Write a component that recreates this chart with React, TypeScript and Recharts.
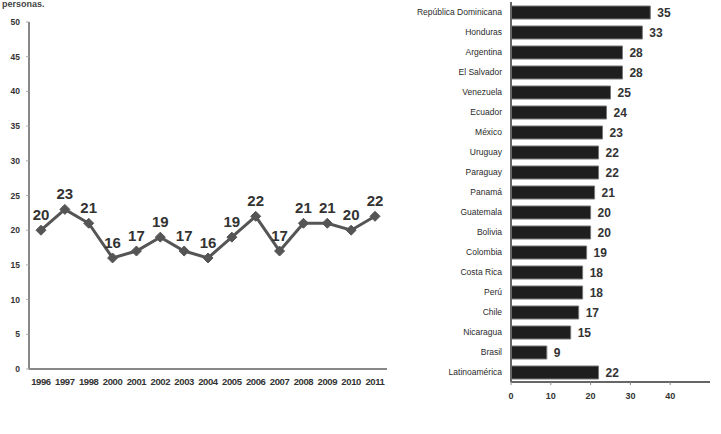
import React from "react";
import {
  ComposedChart,
  Line,
  LabelList,
  XAxis,
  YAxis,
  BarChart,
  Bar,
} from "recharts";

const years = ["1996", "1997", "1998", "2000", "2001", "2002", "2003", "2004", "2005", "2006", "2007", "2008", "2009", "2010", "2011"];
const yearValues = [20, 23, 21, 16, 17, 19, 17, 16, 19, 22, 17, 21, 21, 20, 22];
const yTicks = [0, 5, 10, 15, 20, 25, 30, 35, 40, 45, 50];

const countries = [
  "República Dominicana", "Honduras", "Argentina", "El Salvador", "Venezuela", "Ecuador", "México",
  "Uruguay", "Paraguay", "Panamá", "Guatemala", "Bolivia", "Colombia", "Costa Rica", "Perú",
  "Chile", "Nicaragua", "Brasil", "Latinoamérica",
];
const countryValues = [35, 33, 28, 28, 25, 24, 23, 22, 22, 21, 20, 20, 19, 18, 18, 17, 15, 9, 22];
const xTicks = [0, 10, 20, 30, 40];

const font = "'Liberation Sans', Arial, sans-serif";

const lineData = years.map((year, i) => ({ year, value: yearValues[i] }));
const barData = countries.map((country, i) => ({ country, value: countryValues[i] }));

function Diamond(props: any) {
  const { cx, cy } = props;
  if (cx == null || cy == null) return null;
  const r = 5;
  return (
    <polygon
      points={`${cx},${cy - r} ${cx + r},${cy} ${cx},${cy + r} ${cx - r},${cy}`}
      fill="#555"
      stroke="#555"
    />
  );
}

function CountryTick(props: any) {
  const { x, y, payload } = props;
  return (
    <text x={x} y={y} dy="0.35em" textAnchor="end" fontSize={8.5} fill="#2a2a2a" fontFamily={font}>
      {payload.value}
    </text>
  );
}

export default function App() {
  const tickStyle = { fontSize: 8.5, fill: "#333", fontFamily: font, fontWeight: 700 };
  return (
    <div style={{ position: "absolute", left: 0, top: 0, width: 721, height: 434, background: "#fff", overflow: "hidden" }}>
      <div style={{ position: "absolute", left: 2, top: 0, fontFamily: font, fontSize: 9, lineHeight: 1, fontWeight: 700, color: "#444" }}>
        personas.
      </div>

      <div style={{ position: "absolute", left: 0, top: 0 }}>
        <ComposedChart width={400} height={400} data={lineData} margin={{ top: 22, right: 13, bottom: 0, left: 0 }}>
          <XAxis
            dataKey="year"
            height={31}
            padding={{ left: 12, right: 12 }}
            tickLine={false}
            tickSize={4}
            tickMargin={5}
            interval={0}
            axisLine={{ stroke: "#888", strokeWidth: 2 }}
            tick={{ ...tickStyle, fontSize: 9.5, letterSpacing: -0.4 }}
          />
          <XAxis xAxisId="t" dataKey="year" orientation="top" height={0} tick={false} tickLine={false} axisLine={{ stroke: "#d4d4d4" }} />
          <YAxis
            domain={[0, 50]}
            ticks={yTicks}
            width={29}
            tickSize={3}
            tickMargin={6}
            interval={0}
            axisLine={{ stroke: "#888", strokeWidth: 2 }}
            tickLine={{ stroke: "#aaa" }}
            tick={tickStyle}
          />
          <YAxis yAxisId="r" orientation="right" width={0} domain={[0, 50]} tick={false} tickLine={false} axisLine={{ stroke: "#d4d4d4" }} />
          <Line
            dataKey="value"
            stroke="#555"
            strokeWidth={3}
            dot={<Diamond />}
            activeDot={false}
            isAnimationActive={false}
          >
            <LabelList dataKey="value" position="top" offset={10} style={{ fontSize: 15, fontWeight: 700, fill: "#333", fontFamily: font }} />
          </Line>
        </ComposedChart>
      </div>

      <div style={{ position: "absolute", left: 400, top: 0 }}>
        <BarChart width={321} height={434} data={barData} layout="vertical" barSize={13} margin={{ top: 2, right: 11, bottom: 0, left: 0 }}>
          <XAxis
            type="number"
            domain={[0, 50]}
            ticks={xTicks}
            height={52}
            tickSize={3}
            tickMargin={8}
            axisLine={{ stroke: "#666", strokeWidth: 2 }}
            tickLine={{ stroke: "#888" }}
            tick={{ ...tickStyle, fontSize: 9 }}
          />
          <YAxis
            type="category"
            dataKey="country"
            width={111}
            interval={0}
            tickLine={false}
            tickSize={4}
            tickMargin={5}
            axisLine={{ stroke: "#666", strokeWidth: 2 }}
            tick={<CountryTick />}
          />
          <YAxis yAxisId="r" type="category" dataKey="country" orientation="right" width={0} tick={false} tickLine={false} axisLine={{ stroke: "#ccc" }} />
          <Bar dataKey="value" fill="#1e1e1e" stroke="#777" strokeWidth={1} isAnimationActive={false}>
            <LabelList dataKey="value" position="right" offset={7} style={{ fontSize: 12, fontWeight: 700, fill: "#333", fontFamily: font }} />
          </Bar>
        </BarChart>
      </div>
    </div>
  );
}
